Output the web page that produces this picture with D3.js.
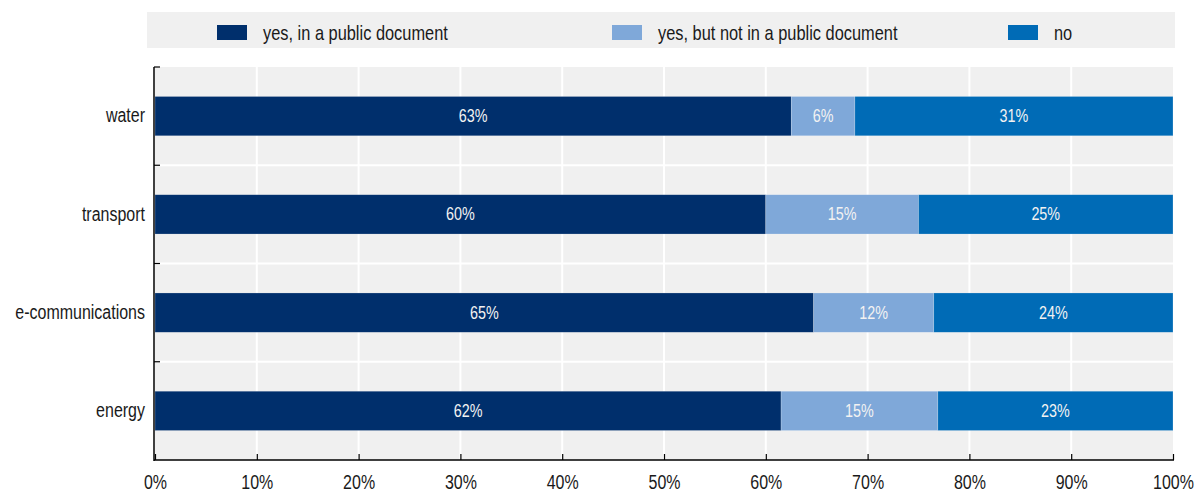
<!DOCTYPE html>
<html>
<head>
<meta charset="utf-8">
<script src="https://cdn.jsdelivr.net/npm/d3@7"></script>
<style>
  html, body { margin: 0; padding: 0; background: #fff; }
  svg text { font-family: "Liberation Sans", Arial, sans-serif; }
</style>
</head>
<body>
<svg id="chart" width="1195" height="494"></svg>
<script>
// Sectors, top to bottom
const categories = ["water", "transport", "e-communications", "energy"];

// Share of respondents (%) per answer
const publicDoc    = [62.5, 60.0, 64.7, 61.5];
const notPublicDoc = [6.25, 15.0, 11.8, 15.4];
const noAnswer     = [31.25, 25.0, 23.5, 23.1];

const seriesNames  = ["yes, in a public document", "yes, but not in a public document", "no"];
const seriesColors = ["#002f6c", "#7fa8d9", "#006bb6"];
const xTicks = [0, 10, 20, 30, 40, 50, 60, 70, 80, 90, 100];

const svg = d3.select("#chart");
const margin = { top: 67, right: 22, bottom: 34, left: 155 };
const W = 1195, H = 494;
const innerW = W - margin.left - margin.right;
const innerH = H - margin.top - margin.bottom;

// Condensed look: squeeze text horizontally around its own anchor point
const SQUEEZE = 0.82;
function narrow(sel) {
  sel.each(function () {
    const t = d3.select(this);
    const tx = +(t.attr("x") || 0), ty = +(t.attr("y") || 0);
    t.attr("transform", `translate(${tx},${ty}) scale(${SQUEEZE},1) translate(${-tx},${-ty})`);
  });
}

const x = d3.scaleLinear().domain([0, 100]).range([margin.left, margin.left + innerW]);
const y = d3.scaleBand().domain(categories).range([margin.top, margin.top + innerH])
  .paddingInner(0.6).paddingOuter(0.3);

// Legend strip
const legend = svg.append("g");
legend.append("rect").attr("x", 147).attr("y", 12).attr("width", 1028).attr("height", 36).attr("fill", "#f0f0f0");
const legendX = [217, 612, 1008];
seriesNames.forEach((name, i) => {
  legend.append("rect").attr("x", legendX[i]).attr("y", 25).attr("width", 30).attr("height", 15)
    .attr("fill", seriesColors[i]);
  legend.append("text").attr("x", legendX[i] + 46).attr("y", 33).attr("dy", "0.35em")
    .attr("font-size", 20).attr("fill", "#1a1a1a").text(name).call(narrow);
});

// Plot background
svg.append("rect").attr("x", x(0)).attr("y", margin.top).attr("width", innerW).attr("height", innerH)
  .attr("fill", "#f0f0f0");

// Gridlines
const grid = svg.append("g");
grid.selectAll("line.v").data(xTicks.slice(1, -1)).join("line")
  .attr("x1", d => x(d)).attr("x2", d => x(d))
  .attr("y1", margin.top).attr("y2", margin.top + innerH)
  .attr("stroke", "#fff").attr("stroke-width", 2);
const step = y.step();
const bounds = categories.slice(1).map(c => y(c) - y.paddingInner() * step / 2);
grid.selectAll("line.h").data(bounds).join("line")
  .attr("x1", x(0)).attr("x2", x(100))
  .attr("y1", d => d).attr("y2", d => d)
  .attr("stroke", "#fff").attr("stroke-width", 2);

// Stacked bars
const rows = categories.map((c, i) => ({ cat: c, s0: publicDoc[i], s1: notPublicDoc[i], s2: noAnswer[i] }));
const stack = d3.stack().keys(["s0", "s1", "s2"])(rows);
const fmt = v => v.toFixed(0) + "%";

stack.forEach((layer, k) => {
  const g = svg.append("g");
  g.selectAll("rect").data(layer).join("rect")
    .attr("x", d => x(d[0]))
    .attr("y", d => y(d.data.cat))
    .attr("width", d => x(d[1]) - x(d[0]))
    .attr("height", y.bandwidth())
    .attr("fill", seriesColors[k])
    .attr("stroke", "rgba(255,255,255,0.35)").attr("stroke-width", 0.6);
  g.selectAll("text").data(layer).join("text")
    .attr("x", d => (x(d[0]) + x(d[1])) / 2)
    .attr("y", d => y(d.data.cat) + y.bandwidth() / 2)
    .attr("dy", "0.35em").attr("text-anchor", "middle")
    .attr("font-size", 17.5).attr("fill", "#f2f2f2")
    .text(d => fmt(d[1] - d[0]))
    .call(narrow);
});

// Bottom axis
const xAxis = svg.append("g").attr("transform", `translate(0,${margin.top + innerH})`)
  .call(d3.axisBottom(x).tickValues(xTicks).tickFormat(d => d + "%").tickSize(-6).tickPadding(15));
xAxis.select(".domain").attr("stroke", "#000").attr("stroke-width", 1.5)
  .attr("d", `M${x(0) - 1},0H${x(100) + 1}`);
xAxis.selectAll(".tick line").attr("stroke", "#000").attr("stroke-width", 1.2);
xAxis.selectAll(".tick text").attr("font-size", 19.5).attr("fill", "#1a1a1a")
  .attr("font-family", "'Liberation Sans', Arial, sans-serif").call(narrow);

// Left axis with ticks at band boundaries
const yAxis = svg.append("g").attr("transform", `translate(${x(0) - 1},0)`)
  .call(d3.axisLeft(y).tickSize(0).tickPadding(9));
yAxis.select(".domain").attr("stroke", "#000").attr("stroke-width", 1.5)
  .attr("d", `M0,${margin.top}V${margin.top + innerH + 1}`);
yAxis.selectAll(".tick text").attr("font-size", 19.5).attr("fill", "#1a1a1a")
  .attr("font-family", "'Liberation Sans', Arial, sans-serif").call(narrow);
yAxis.selectAll("line.bound").data([margin.top, ...bounds]).join("line")
  .attr("class", "bound")
  .attr("x1", 0).attr("x2", 6).attr("y1", d => d).attr("y2", d => d)
  .attr("stroke", "#000").attr("stroke-width", 1.2);
</script>
</body>
</html>
